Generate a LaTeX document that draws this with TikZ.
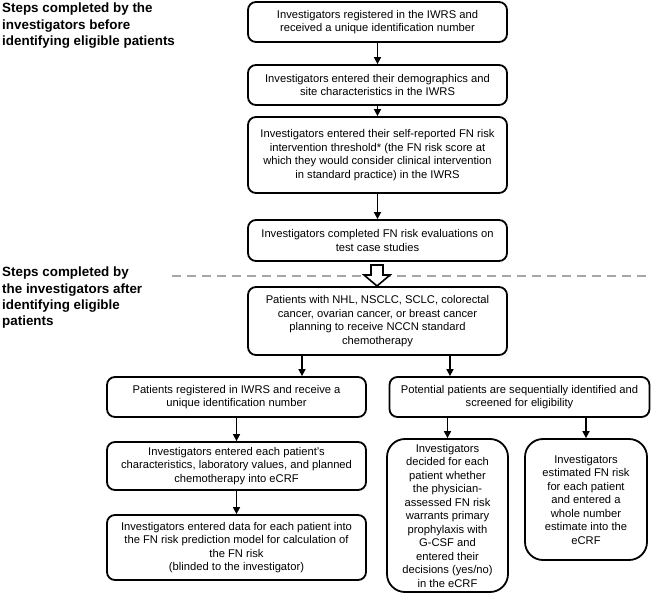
\documentclass[tikz,border=0pt]{standalone}
\usepackage{fontspec}
\setmainfont{Liberation Sans}
\usetikzlibrary{arrows.meta}
\begin{document}
\begin{tikzpicture}[x=1pt,y=-1pt,
  box/.style={draw, line width=1.8pt, rounded corners=8pt, align=center,
    font=\fontsize{11.2}{13.5}\selectfont, inner sep=0pt},
  bigbox/.style={box, rounded corners=18pt},
  head/.style={anchor=north west, align=left, inner sep=0pt,
    font=\fontsize{13.4}{16.3}\selectfont\bfseries},
  arr/.style={line width=1.6pt, -{Triangle[length=7pt,width=7pt]}}]
\useasboundingbox (0,0) rectangle (651,596);

\node[head] (h1) at (2,3) {Steps completed by the\\investigators before\\identifying eligible patients};
\node[head] (h2) at (2,267) {Steps completed by\\the investigators after\\identifying eligible\\patients};

\node[box, minimum width=259pt, minimum height=40pt] (b1) at (377.5,22)
  {Investigators registered in the IWRS and\\received a unique identification number};
\node[box, minimum width=259pt, minimum height=40pt] (b2) at (377.5,85)
  {Investigators entered their demographics and\\site characteristics in the IWRS};
\node[box, minimum width=259pt, minimum height=76pt] (b3) at (377.5,155)
  {Investigators entered their self-reported FN risk\\intervention threshold* (the FN risk score at\\which they would consider clinical intervention\\in standard practice) in the IWRS};
\node[box, minimum width=259pt, minimum height=41pt] (b4) at (377.5,240.5)
  {Investigators completed FN risk evaluations on\\test case studies};

\coordinate (dl) at (172,276);
\coordinate (dr) at (651,276);
\draw[line width=2pt, gray!70, dash pattern=on 9pt off 6pt] (dl) -- (dr);

\node[box, minimum width=259pt, minimum height=68pt] (b5) at (377.5,321)
  {Patients with NHL, NSCLC, SCLC, colorectal\\cancer, ovarian cancer, or breast cancer\\planning to receive NCCN standard\\chemotherapy};

% hollow arrow
\draw[line width=1.6pt, fill=white, line join=miter]
  (371,265) -- (383,265) -- (383,275) -- (390,275) -- (377,286) -- (364,275) -- (371,275) -- cycle;

\node[box, minimum width=259pt, minimum height=40pt] (l1) at (236.5,397)
  {Patients registered in IWRS and receive a\\unique identification number};
\node[box, minimum width=259pt, minimum height=48pt] (l2) at (236.5,466)
  {Investigators entered each patient's\\characteristics, laboratory values, and planned\\chemotherapy into eCRF};
\node[box, minimum width=259pt, minimum height=65pt] (l3) at (236.5,547.5)
  {Investigators entered data for each patient into\\the FN risk prediction model for calculation of\\the FN risk\\(blinded to the investigator)};

\node[box, minimum width=260pt, minimum height=40pt] (r1) at (519.5,397)
  {Potential patients are sequentially identified and\\screened for eligibility};
\node[bigbox, minimum width=121pt, minimum height=153pt] (r2) at (447.5,515.5)
  {Investigators\\decided for each\\patient whether\\the physician-\\assessed FN risk\\warrants primary\\prophylaxis with\\G-CSF and\\entered their\\decisions (yes/no)\\in the eCRF};
\node[bigbox, minimum width=122pt, minimum height=121pt] (r3) at (586,499.5)
  {Investigators\\estimated FN risk\\for each patient\\and entered a\\whole number\\estimate into the\\eCRF};

\draw[arr] (b1) -- (b2);
\draw[arr] (b2) -- (b3);
\draw[arr] (b3) -- (b4);
\draw[arr] (b5.south -| 302,0) -- (l1.north -| 302,0);
\draw[arr] (b5.south -| 450,0) -- (r1.north -| 450,0);
\draw[arr] (l1) -- (l2);
\draw[arr] (l2) -- (l3);
\draw[arr] (r1.south -| r2.north) -- (r2.north);
\draw[arr] (r1.south -| r3.north) -- (r3.north);
\end{tikzpicture}
\end{document}
